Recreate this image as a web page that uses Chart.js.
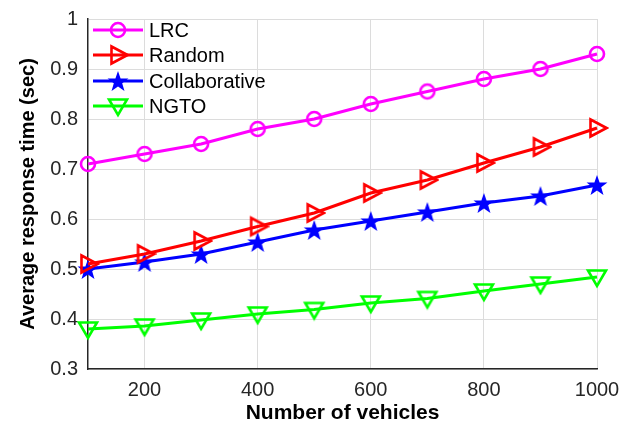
<!DOCTYPE html>
<html>
<head>
<meta charset="utf-8">
<script src="https://cdn.jsdelivr.net/npm/chart.js@4.4.1/dist/chart.umd.min.js"></script>
<style>
  html, body { margin: 0; padding: 0; background: #fff; }
  #wrap { width: 619px; height: 427px; position: relative; }
</style>
</head>
<body>
<div id="wrap"><canvas id="myChart"></canvas></div>
<script>
// data
let vehicles = [100, 200, 300, 400, 500, 600, 700, 800, 900, 1000];
let xTicks = [200, 400, 600, 800, 1000];
let lrc = [0.71, 0.73, 0.75, 0.78, 0.80, 0.83, 0.855, 0.88, 0.90, 0.93];
let random = [0.51, 0.53, 0.556, 0.585, 0.612, 0.652, 0.678, 0.712, 0.744, 0.782];
let collab = [0.50, 0.514, 0.53, 0.554, 0.578, 0.596, 0.614, 0.632, 0.646, 0.668];
let ngto = [0.38, 0.386, 0.398, 0.41, 0.419, 0.432, 0.441, 0.456, 0.47, 0.484];
let names = ['LRC', 'Random', 'Collaborative', 'NGTO'];
let colors = ['#ff00ff', '#ff0000', '#0000ff', '#00ff00'];
let shapes = ['circle', 'right', 'star', 'down'];

const FONT = '"Liberation Sans", Arial, sans-serif';

// marker images, drawn once and reused for points and legend
function makeMarker(shape, color) {
  const s = 24;
  const c = document.createElement('canvas');
  c.width = s; c.height = s;
  const g = c.getContext('2d');
  const m = s / 2;
  g.strokeStyle = color;
  g.fillStyle = color;
  g.lineWidth = 2.6;
  g.beginPath();
  if (shape === 'circle') {
    g.arc(m, m, 7, 0, Math.PI * 2);
    g.stroke();
  } else if (shape === 'right') {
    g.moveTo(m - 6.5, m - 8.5);
    g.lineTo(m + 9.5, m);
    g.lineTo(m - 6.5, m + 8.5);
    g.closePath();
    g.stroke();
  } else if (shape === 'down') {
    g.moveTo(m - 9, m - 6.5);
    g.lineTo(m + 9, m - 6.5);
    g.lineTo(m, m + 9);
    g.closePath();
    g.stroke();
  } else if (shape === 'star') {
    const R = 11, r = 4.4;
    for (let i = 0; i < 10; i++) {
      const a = -Math.PI / 2 + i * Math.PI / 5;
      const rr = i % 2 === 0 ? R : r;
      const px = m + rr * Math.cos(a), py = m + 1 + rr * Math.sin(a);
      if (i === 0) g.moveTo(px, py); else g.lineTo(px, py);
    }
    g.closePath();
    g.fill();
  }
  return c;
}

let markers = shapes.map((s, i) => makeMarker(s, colors[i]));
let series = [lrc, random, collab, ngto];

let datasets = series.map((vals, i) => ({
  label: names[i],
  data: vehicles.map((x, j) => ({ x: x, y: vals[j] })),
  borderColor: colors[i],
  backgroundColor: colors[i],
  borderWidth: 3,
  pointStyle: markers[i],
  pointRadius: 11,
  pointHoverRadius: 11,
  clip: false,
  tension: 0
}));

// MATLAB style legend inside the axes, no box
const insideLegend = {
  id: 'insideLegend',
  afterDraw(chart) {
    const ctx = chart.ctx;
    const a = chart.chartArea;
    const rows = [30, 55, 81, 106];
    ctx.save();
    ctx.font = '20px ' + FONT;
    ctx.textBaseline = 'middle';
    ctx.fillStyle = '#000';
    names.forEach((n, i) => {
      const y = rows[i];
      ctx.strokeStyle = colors[i];
      ctx.lineWidth = 3;
      ctx.beginPath();
      ctx.moveTo(a.left + 5, y);
      ctx.lineTo(a.left + 55, y);
      ctx.stroke();
      ctx.drawImage(markers[i], a.left + 30 - 12, y - 12);
      ctx.fillText(n, a.left + 61, y + 1);
    });
    ctx.restore();
  }
};

const ctx = document.getElementById('myChart').getContext('2d');
const chart = new Chart(ctx, {
  type: 'line',
  data: { datasets: datasets },
  options: {
    responsive: true,
    maintainAspectRatio: false,
    animation: false,
    layout: { padding: { top: 19, right: 22, left: 0, bottom: 0 } },
    plugins: { legend: { display: false }, tooltip: { enabled: false } },
    scales: {
      x: {
        type: 'linear',
        min: 100,
        max: 1000,
        afterBuildTicks: (scale) => { scale.ticks = xTicks.map(v => ({ value: v })); },
        afterFit: (scale) => { scale.height = 58; scale.paddingRight = 0; scale.paddingLeft = 0; },
        grid: { color: '#dcdcdc', lineWidth: 1, drawTicks: false },
        border: { color: '#262626', width: 1.5 },
        ticks: { color: '#262626', padding: 9, maxRotation: 0,
                 callback: (v) => String(v),
                 font: { family: FONT, size: 20 } },
        title: { display: true, text: 'Number of vehicles', color: '#000',
                 padding: { top: 0, bottom: 1 },
                 font: { family: FONT, size: 21, weight: 'bold' } }
      },
      y: {
        min: 0.3,
        max: 1,
        afterFit: (scale) => { scale.width = 88; scale.paddingTop = 0; scale.paddingBottom = 0; },
        grid: { color: '#dcdcdc', lineWidth: 1, drawTicks: false },
        border: { color: '#262626', width: 1.5 },
        ticks: { stepSize: 0.1, color: '#262626', padding: 10,
                 callback: (v) => String(Number(v.toFixed(2))),
                 font: { family: FONT, size: 20 } },
        title: { display: true, text: 'Average response time (sec)', color: '#000',
                 padding: { top: 16, bottom: 0 },
                 font: { family: FONT, size: 20, weight: 'bold' } }
      }
    }
  },
  plugins: [insideLegend]
});
</script>
</body>
</html>
